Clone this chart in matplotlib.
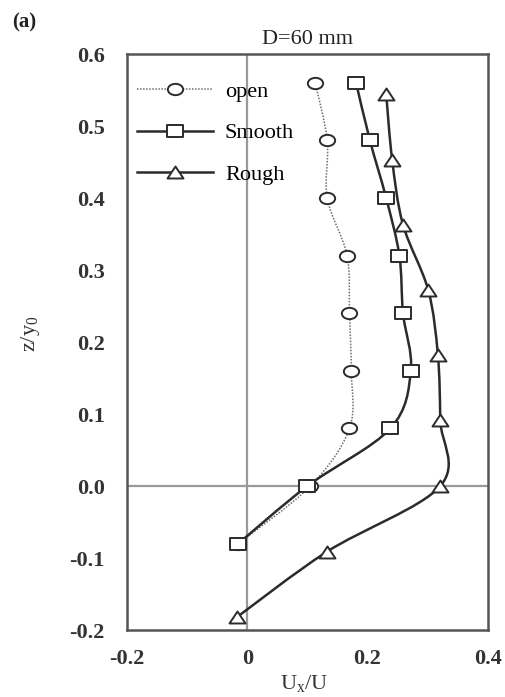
import matplotlib
matplotlib.use("Agg")
import matplotlib.pyplot as plt
import numpy as np
from matplotlib.path import Path
from matplotlib.patches import PathPatch
from matplotlib.lines import Line2D

plt.rcParams['font.family'] = ['Liberation Serif', 'DejaVu Serif']
plt.rcParams['mathtext.default'] = 'regular'

# velocity profiles, D = 60 mm
open_x = [0.113, 0.133, 0.133, 0.166, 0.170, 0.173, 0.170, 0.105, -0.015]
open_z = [0.56, 0.48, 0.40, 0.32, 0.24, 0.16, 0.08, 0.0, -0.08]
smooth_x = [0.181, 0.204, 0.231, 0.253, 0.259, 0.272, 0.238, 0.100, -0.015]
smooth_z = [0.56, 0.48, 0.40, 0.32, 0.24, 0.16, 0.08, 0.0, -0.08]
rough_x = [0.231, 0.241, 0.259, 0.301, 0.317, 0.321, 0.321, 0.133, -0.017]
rough_z = [0.545, 0.453, 0.363, 0.272, 0.182, 0.091, 0.0, -0.091, -0.182]

xticks = [-0.2, 0, 0.2, 0.4]
xticklabels = ['-0.2', '0', '0.2', '0.4']
yticks = [-0.2, -0.1, 0.0, 0.1, 0.2, 0.3, 0.4, 0.5, 0.6]

INK = '#2b2b2b'
GRID = '#9e9894'


def smooth_path(xs, zs):
    """Catmull-Rom style bezier through the points (like a spreadsheet smoothed line)."""
    p = np.column_stack([xs, zs])
    n = len(p)
    verts = [p[0]]
    codes = [Path.MOVETO]
    for i in range(n - 1):
        p0 = p[i - 1] if i > 0 else p[i]
        p1 = p[i]
        p2 = p[i + 1]
        p3 = p[i + 2] if i + 2 < n else p[i + 1]
        c1 = p1 + (p2 - p0) / 6.0
        c2 = p2 - (p3 - p1) / 6.0
        verts += [c1, c2, p2]
        codes += [Path.CURVE4] * 3
    return Path(verts, codes)


def stretched(path, sx):
    v = path.vertices.copy()
    v[:, 0] *= sx
    return Path(v, path.codes)


ell = stretched(Path.unit_circle(), 1.35)
box = Path([(-1.25, -1), (1.25, -1), (1.25, 1), (-1.25, 1), (-1.25, -1)],
           [Path.MOVETO, Path.LINETO, Path.LINETO, Path.LINETO, Path.CLOSEPOLY])
tri = Path([(0, 0.75), (-1.0, -0.75), (1.0, -0.75), (0, 0.75)],
           [Path.MOVETO, Path.LINETO, Path.LINETO, Path.CLOSEPOLY])

series = [
    ('open', open_x, open_z, ell, 11, dict(color='#6e6e6e', lw=1.1, ls=(0, (1, 1)))),
    ('Smooth', smooth_x, smooth_z, box, 11, dict(color=INK, lw=1.8, ls='-')),
    ('Rough', rough_x, rough_z, tri, 11.5, dict(color=INK, lw=1.8, ls='-')),
]

fig = plt.figure(figsize=(5.06, 6.97), dpi=100)
ax = fig.add_axes([0.251, 0.0961, 0.713, 0.8264])

ax.axvline(0, color=GRID, lw=1.6, zorder=1)
ax.axhline(0, color=GRID, lw=1.6, zorder=1)

handles = []
for name, xs, zs, mk, ms, st in series:
    ax.add_patch(PathPatch(smooth_path(xs, zs), fill=False, edgecolor=st['color'],
                           lw=st['lw'], ls=st['ls'], zorder=2))
    ax.plot(xs, zs, ls='none', marker=mk, ms=ms, mfc='white', mec=INK, mew=1.4, zorder=3)
    handles.append(Line2D([], [], color=st['color'], lw=st['lw'], ls=st['ls'],
                          marker=mk, ms=ms, mfc='white', mec=INK, mew=1.4))

ax.set_xlim(-0.2, 0.4)
ax.set_ylim(-0.2, 0.6)
ax.set_xticks(xticks)
ax.set_xticklabels(xticklabels)
ax.set_yticks(yticks)
ax.set_yticklabels(['%.1f' % v for v in yticks])
ax.tick_params(length=0, labelsize=16, colors='#333333')
ax.tick_params(axis='x', pad=14)
ax.tick_params(axis='y', pad=16)
for lab in ax.get_xticklabels() + ax.get_yticklabels():
    lab.set_fontweight('bold')
for sp in ax.spines.values():
    sp.set_color('#555555')
    sp.set_linewidth(1.8)

ax.set_title('D=60 mm', fontsize=16, pad=7, color='#222222')
ax.set_xlabel('U$_x$/U', fontsize=16, color='#333333')
ax.xaxis.set_label_coords(0.49, -0.075)
ax.set_ylabel('z/y$_0$', fontsize=16, color='#333333')
ax.yaxis.set_label_coords(-0.235, 0.515)

ax.legend(handles, ['open', 'Smooth', 'Rough'], loc='upper left',
          bbox_to_anchor=(0.028, 0.952), frameon=False, fontsize=16,
          handlelength=3.4, handletextpad=0.55, labelspacing=0.93,
          borderpad=0, borderaxespad=0)

fig.text(0.024, 0.982, '(a)', fontsize=15, fontweight='bold', va='top', color='#222222')

fig.savefig('out.png', dpi=100)
